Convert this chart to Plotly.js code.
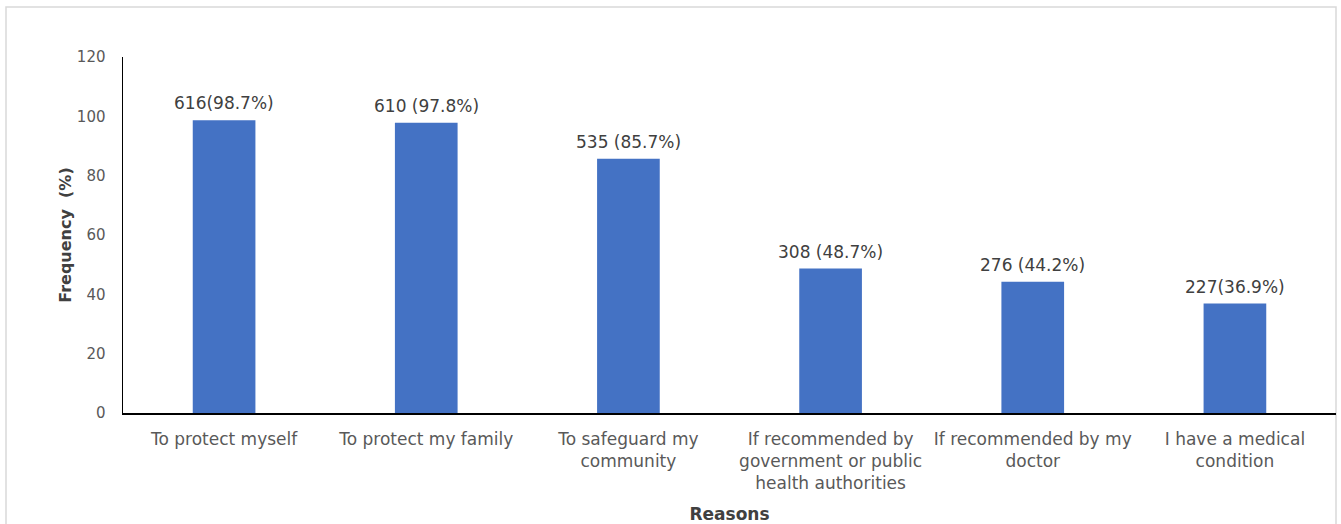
<!DOCTYPE html>
<html>
<head>
<meta charset="utf-8">
<script src="https://cdn.plot.ly/plotly-3.0.1.min.js"></script>
<style>html,body{margin:0;padding:0;background:#fff;}#chart{width:1341px;height:524px;}</style>
</head>
<body>
<div id="chart"></div>
<script>
const categories = [
  "To protect myself",
  "To protect my family",
  "To safeguard my<br>community",
  "If recommended by<br>government or public<br>health authorities",
  "If recommended by my<br>doctor",
  "I have a medical<br>condition"
];
const percentages = [98.7, 97.8, 85.7, 48.7, 44.2, 36.9];
const counts = [616, 610, 535, 308, 276, 227];
const barLabels = ["616(98.7%)", "610 (97.8%)", "535 (85.7%)", "308 (48.7%)", "276 (44.2%)", "227(36.9%)"];
const yTicks = [0, 20, 40, 60, 80, 100, 120];

const FONT = "DejaVu Sans, Verdana, sans-serif";

const trace = {
  type: "bar",
  x: categories,
  y: percentages,
  customdata: counts,
  marker: {color: "#4472C4"},
  hoverinfo: "skip"
};

const annotations = categories.map((c, i) => ({
  x: c, y: percentages[i], xref: "x", yref: "y",
  text: barLabels[i], showarrow: false, yanchor: "bottom", yshift: 5,
  font: {family: FONT, size: 17, color: "#404040"}
}));

const layout = {
  width: 1341, height: 524,
  margin: {l: 123, r: 5, t: 57, b: 111},
  paper_bgcolor: "#fff", plot_bgcolor: "#fff",
  showlegend: false,
  bargap: 0.69,
  font: {family: FONT, color: "#595959", size: 14},
  xaxis: {
    type: "category",
    showline: true, linecolor: "#000", linewidth: 1.5,
    ticks: "", showgrid: false, zeroline: false,
    tickfont: {family: FONT, size: 17, color: "#595959"},
    ticklabelstandoff: 10,
    title: {text: "<b>Reasons</b>", font: {family: FONT, size: 17, color: "#404040"}, standoff: 16}
  },
  yaxis: {
    range: [0, 120], tickvals: yTicks,
    showline: true, linecolor: "#000", linewidth: 1.5,
    ticks: "", showgrid: false, zeroline: false,
    tickfont: {family: FONT, size: 15, color: "#595959"},
    ticklabelstandoff: 13,
    title: {text: "<b>Frequency  (%)</b>", font: {family: FONT, size: 16, color: "#404040"}, standoff: 1}
  },
  annotations: annotations,
  shapes: [{
    type: "rect", xref: "paper", yref: "paper",
    x0: (6 - 123) / 1213, x1: 1.0, y0: -0.5, y1: (413 - 7) / 356,
    line: {color: "#D9D9D9", width: 1.5}, fillcolor: "rgba(0,0,0,0)", layer: "below"
  }]
};

Plotly.newPlot("chart", [trace], layout, {displayModeBar: false, staticPlot: true});
</script>
</body>
</html>
